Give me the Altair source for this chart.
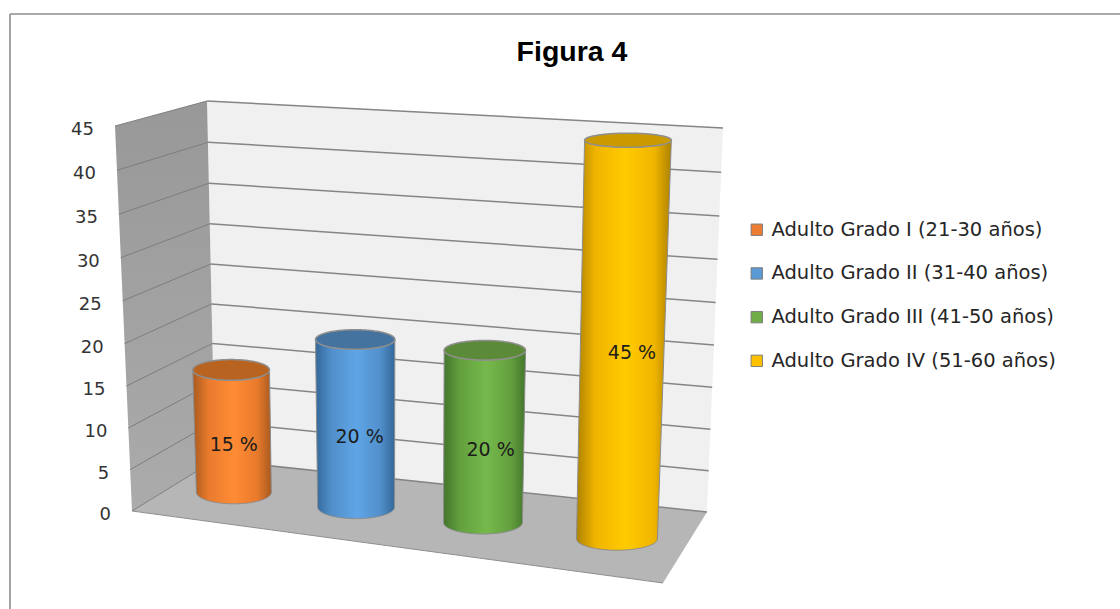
import numpy as np
import pandas as pd
import altair as alt

# Chart content
title_text = "Figura 4"
categories = [
    "Adulto Grado I (21-30 años)",
    "Adulto Grado II (31-40 años)",
    "Adulto Grado III (41-50 años)",
    "Adulto Grado IV (51-60 años)",
]
values = [15, 20, 20, 45]
ticks = [0, 5, 10, 15, 20, 25, 30, 35, 40, 45]
legend_colors = ["#ed7d31", "#5b9bd5", "#70ad47", "#ffc000"]
edge_colors = ["#a85a1f", "#33689a", "#43752c", "#ad8200"]
mid_colors = ["#e97a2d", "#518fca", "#63a03e", "#f0b400"]
light_colors = ["#ff8c34", "#5fa5e6", "#76b94c", "#ffcb00"]
cap_colors = ["#b8631f", "#44739f", "#5b8a39", "#cb9a00"]

W, H = 1120, 609
VMAX = max(ticks)

# Corners of the box in screen space: (x, y)
BACK_L0, BACK_L1 = np.array([215.0, 460.0]), np.array([207.0, 101.0])
BACK_R0, BACK_R1 = np.array([707.0, 512.0]), np.array([723.0, 128.0])
SIDE_0, SIDE_1 = np.array([132.0, 511.0]), np.array([115.0, 126.0])
FRONT_R = np.array([663.0, 583.0])
MID_L, MID_R = (BACK_L0 + SIDE_0) / 2, (BACK_R0 + FRONT_R) / 2

# Position of each category along the floor, in perspective
SLOTS = [0.118, 0.357, 0.605, 0.867]

x_enc = alt.X("x:Q", scale=alt.Scale(domain=[0, W], nice=False, zero=False), axis=None)
y_enc = alt.Y("y:Q", scale=alt.Scale(domain=[H, 0], nice=False, zero=False), axis=None)
x2_enc = alt.X2("x2:Q")
y2_enc = alt.Y2("y2:Q")


def lerp(a, b, t):
    return a + (b - a) * t


def wall_height(v):
    """Share of the wall height reached by value v; the upper part is foreshortened less."""
    t = v / VMAX
    return t / (1 + 0.04 * (1 - t))


def convex_spans(points):
    """Vertical spans of a convex polygon, ready for an area mark."""
    pts = np.array(points, dtype=float)
    xs = np.unique(pts[:, 0])
    rows = []
    for x in xs:
        hits = []
        for a, b in zip(pts, np.roll(pts, -1, axis=0)):
            lo, hi = sorted((a[0], b[0]))
            if lo <= x <= hi:
                if a[0] == b[0]:
                    hits += [a[1], b[1]]
                else:
                    hits.append(a[1] + (b[1] - a[1]) * (x - a[0]) / (b[0] - a[0]))
        rows.append({"x": x, "y": min(hits), "y2": max(hits)})
    return pd.DataFrame(rows)


def panel(points, fill, stroke=None):
    kw = {"stroke": stroke, "strokeWidth": 1} if stroke else {}
    return alt.Chart(convex_spans(points)).mark_area(fill=fill, **kw).encode(
        x=x_enc, y=y_enc, y2=y2_enc
    )


def cylinder(slot, value, i):
    """Body and cap of one cylinder, with its height taken from the value."""
    base = lerp(MID_L, MID_R, slot)
    units = lerp(8.05, 8.98, slot)
    lean = lerp(-0.25, 0.32, slot)
    bx, by = base
    by -= 0.5
    tx, ty = bx + lean * value, by - units * value
    brx = lerp(37.0, 41.0, slot)
    trx = brx * (1 + 0.0016 * value)
    bry = 11.5
    try_ = 12.0 - 0.11 * value

    ang = np.linspace(np.pi, 0, 61)
    lower = list(zip(bx + brx * np.cos(ang), by + bry * np.sin(ang)))
    upper = list(zip(tx + trx * np.cos(ang), ty + try_ * np.sin(ang)))
    top_l, bot_l = (tx - trx, ty), (bx - brx, by)
    top_r, bot_r = (tx + trx, ty), (bx + brx, by)
    if top_l[0] < bot_l[0]:
        lower.insert(0, top_l)
    else:
        upper.insert(0, bot_l)
    if top_r[0] > bot_r[0]:
        lower.append(top_r)
    else:
        upper.append(bot_r)
    lower, upper = np.array(lower), np.array(upper)

    xs = np.unique(np.concatenate([lower[:, 0], upper[:, 0]]))
    body = pd.DataFrame({
        "x": xs,
        "y": np.interp(xs, upper[:, 0], upper[:, 1]),
        "y2": np.interp(xs, lower[:, 0], lower[:, 1]),
    })
    shade = alt.Gradient(
        gradient="linear", x1=0, x2=1, y1=0, y2=0,
        stops=[
            alt.GradientStop(color=edge_colors[i], offset=0),
            alt.GradientStop(color=mid_colors[i], offset=0.2),
            alt.GradientStop(color=light_colors[i], offset=0.52),
            alt.GradientStop(color=mid_colors[i], offset=0.82),
            alt.GradientStop(color=edge_colors[i], offset=1),
        ],
    )
    body_mark = alt.Chart(body).mark_area(
        fill=shade, stroke="#8c8c8c", strokeWidth=1
    ).encode(x=x_enc, y=y_enc, y2=y2_enc)

    cap_ang = np.linspace(np.pi, 0, 81)
    cap = pd.DataFrame({
        "x": tx + trx * np.cos(cap_ang),
        "y": ty - try_ * np.sin(cap_ang),
        "y2": ty + try_ * np.sin(cap_ang),
    })
    cap_mark = alt.Chart(cap).mark_area(
        fill=cap_colors[i], stroke="#8f8f8f", strokeWidth=1.5
    ).encode(x=x_enc, y=y_enc, y2=y2_enc)

    label = pd.DataFrame([{
        "x": (bx + tx) / 2 + 11 * slot,
        "y": (by + ty) / 2 + 13.5,
        "text": f"{value} %",
    }])
    label_mark = alt.Chart(label).mark_text(
        font="DejaVu Sans", fontSize=19, color="#1c1c1c", align="center", baseline="middle"
    ).encode(x=x_enc, y=y_enc, text="text:N")
    return [body_mark, cap_mark, label_mark]


# Legend source: the squares sit behind the walls, only their legend is seen
legend_df = pd.DataFrame({
    "category": categories,
    "x": [lerp(MID_L, MID_R, s)[0] for s in SLOTS],
    "y": [lerp(MID_L, MID_R, s)[1] for s in SLOTS],
})
legend_layer = alt.Chart(legend_df).mark_square(size=20, opacity=1).encode(
    x=x_enc,
    y=y_enc,
    color=alt.Color(
        "category:N",
        scale=alt.Scale(domain=categories, range=legend_colors),
        legend=alt.Legend(
            title=None,
            orient="none",
            legendX=747,
            legendY=220,
            symbolType="square",
            symbolSize=130,
            symbolOpacity=1,
            symbolStrokeColor="#7f7f7f",
            symbolStrokeWidth=1,
            labelFont="DejaVu Sans",
            labelFontSize=19.5,
            labelColor="#262626",
            labelLimit=400,
            labelOffset=5,
            rowPadding=22.7,
        ),
    ),
)

# Gridlines across the back wall and the side wall
back_rows, side_rows = [], []
for v in ticks:
    t = wall_height(v)
    inner = lerp(BACK_L0, BACK_L1, t)
    outer = lerp(SIDE_0, SIDE_1, t)
    right = lerp(BACK_R0, BACK_R1, t)
    back_rows.append({"x": inner[0], "y": inner[1], "x2": right[0], "y2": right[1]})
    side_rows.append({"x": outer[0], "y": outer[1], "x2": inner[0], "y2": inner[1]})
back_grid = alt.Chart(pd.DataFrame(back_rows)).mark_rule(
    color="#858585", strokeWidth=1.5
).encode(x=x_enc, y=y_enc, x2=x2_enc, y2=y2_enc)
side_grid = alt.Chart(pd.DataFrame(side_rows)).mark_rule(
    color="#7d7d7d", strokeWidth=1
).encode(x=x_enc, y=y_enc, x2=x2_enc, y2=y2_enc)

# Value labels standing off the outer edge of the side wall
tick_rows = []
for v in ticks:
    p = lerp(SIDE_0, SIDE_1, wall_height(v))
    tick_rows.append({"x": p[0] - 21, "y": p[1] + 4, "text": str(v)})
tick_labels = alt.Chart(pd.DataFrame(tick_rows)).mark_text(
    font="DejaVu Sans", fontSize=18, color="#333333", align="right", baseline="middle"
).encode(x=x_enc, y=y_enc, text="text:N")

# Floor front edge
floor_edge = alt.Chart(pd.DataFrame([
    {"x": SIDE_0[0], "y": SIDE_0[1], "x2": FRONT_R[0], "y2": FRONT_R[1]},
])).mark_rule(color="#8f8f8f", strokeWidth=1).encode(x=x_enc, y=y_enc, x2=x2_enc, y2=y2_enc)

side_fill = alt.Gradient(
    gradient="linear", x1=0, x2=0, y1=0, y2=1,
    stops=[
        alt.GradientStop(color="#989898", offset=0),
        alt.GradientStop(color="#ababab", offset=1),
    ],
)

# Frame of the chart, running off the right and bottom edges
frame = alt.Chart(pd.DataFrame([
    {"x": 10, "y": 14, "x2": W, "y2": 14},
    {"x": 10, "y": 14, "x2": 10, "y2": H},
])).mark_rule(color="#8e8e8e", strokeWidth=1.6).encode(x=x_enc, y=y_enc, x2=x2_enc, y2=y2_enc)

title = alt.Chart(pd.DataFrame([{"x": 572, "y": 52, "text": title_text}])).mark_text(
    font="Liberation Sans", fontSize=28.5, fontWeight="bold", color="#000000",
    align="center", baseline="middle",
).encode(x=x_enc, y=y_enc, text="text:N")

layers = [
    legend_layer,
    panel([BACK_L1, BACK_R1, BACK_R0, BACK_L0], "#f0f0f0"),
    panel([SIDE_1, BACK_L1, BACK_L0, SIDE_0], side_fill),
    panel([SIDE_0, BACK_L0, BACK_R0, FRONT_R], "#b6b6b6"),
    back_grid,
    side_grid,
    floor_edge,
    tick_labels,
    frame,
    title,
]
for i, (slot, value) in enumerate(zip(SLOTS, values)):
    layers += cylinder(slot, value, i)

chart = alt.layer(*layers).properties(
    width=W,
    height=H,
    padding=0,
    autosize=alt.AutoSizeParams(type="none"),
    background="#ffffff",
).configure_view(stroke=None)

chart.save("out.html", embed_options={"renderer": "svg", "actions": False})
